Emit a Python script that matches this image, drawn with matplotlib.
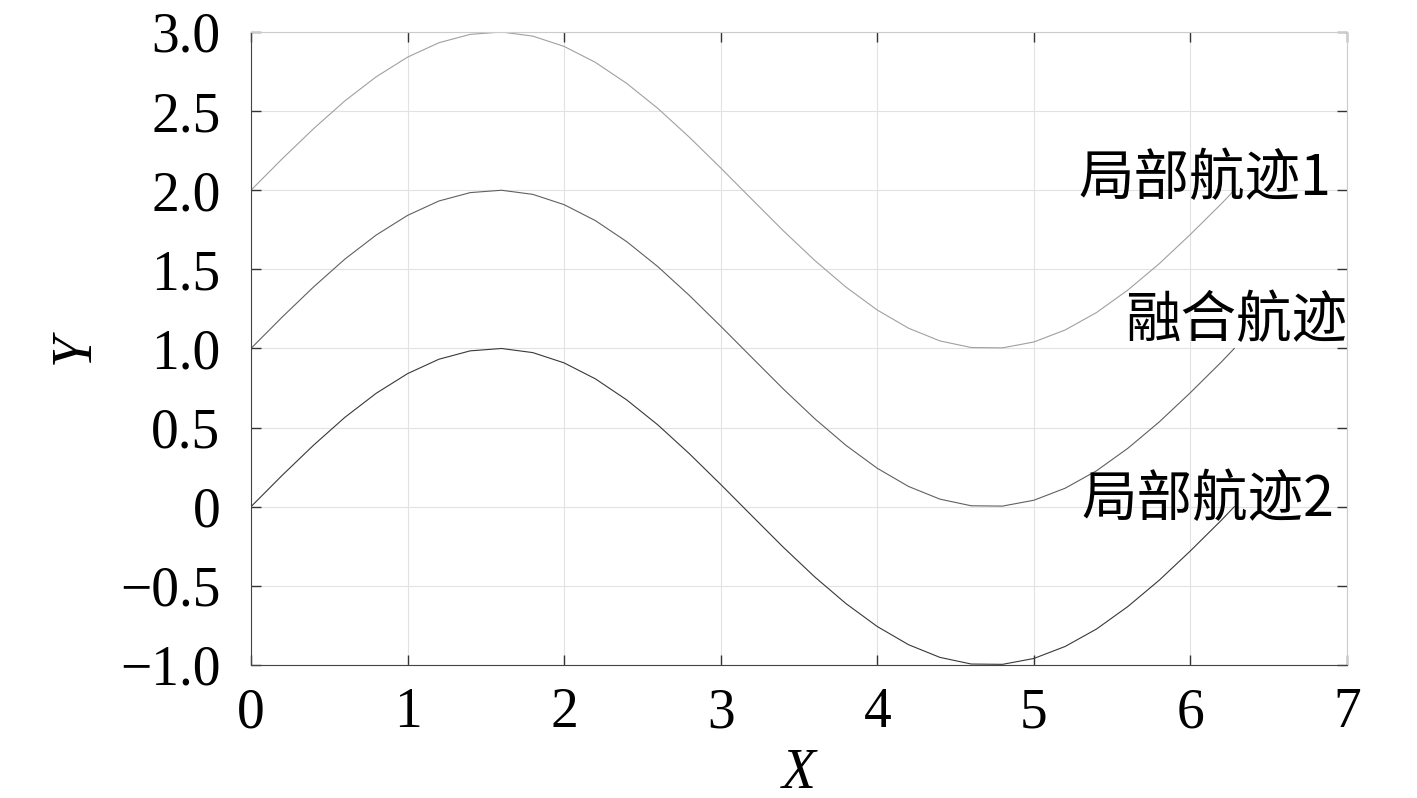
import matplotlib
matplotlib.use('Agg')
import matplotlib.pyplot as plt

plt.rcParams['font.family'] = ['Liberation Serif', 'Noto Sans CJK SC']
plt.rcParams['axes.unicode_minus'] = True

# values
x = [0, 0.2, 0.4, 0.6, 0.8, 1.0, 1.2, 1.4, 1.6, 1.8, 2.0, 2.2, 2.4, 2.6, 2.8, 3.0,
     3.2, 3.4, 3.6, 3.8, 4.0, 4.2, 4.4, 4.6, 4.8, 5.0, 5.2, 5.4, 5.6, 5.8, 6.0, 6.2, 6.28]
track1 = [2.000, 2.199, 2.389, 2.565, 2.717, 2.841, 2.932, 2.985, 3.000, 2.974, 2.909,
          2.808, 2.675, 2.516, 2.335, 2.141, 1.942, 1.744, 1.557, 1.388, 1.243, 1.128,
          1.048, 1.006, 1.004, 1.041, 1.117, 1.227, 1.369, 1.535, 1.721, 1.917, 2.000]
fused = [1.000, 1.199, 1.389, 1.565, 1.717, 1.841, 1.932, 1.985, 2.000, 1.974, 1.909,
         1.808, 1.675, 1.516, 1.335, 1.141, 0.942, 0.744, 0.557, 0.388, 0.243, 0.128,
         0.048, 0.006, 0.004, 0.041, 0.117, 0.227, 0.369, 0.535, 0.721, 0.917, 1.000]
track2 = [0.000, 0.199, 0.389, 0.565, 0.717, 0.841, 0.932, 0.985, 1.000, 0.974, 0.909,
          0.808, 0.675, 0.516, 0.335, 0.141, -0.058, -0.256, -0.443, -0.612, -0.757, -0.872,
          -0.952, -0.994, -0.996, -0.959, -0.883, -0.773, -0.631, -0.465, -0.279, -0.083, 0.000]

xticks = [0, 1, 2, 3, 4, 5, 6, 7]
yticks = [-1.0, -0.5, 0, 0.5, 1.0, 1.5, 2.0, 2.5, 3.0]
ytick_labels = ['\u22121.0', '\u22120.5', '0', '0.5', '1.0', '1.5', '2.0', '2.5', '3.0']

fig = plt.figure(figsize=(14.17, 7.98), dpi=100)
ax = fig.add_axes([0.1771, 0.1667, 0.7735, 0.7932])

ax.plot(x, track1, color='#a0a0a0', lw=0.8)
ax.plot(x, fused, color='#606060', lw=0.8)
ax.plot(x, track2, color='#383838', lw=0.8)

cjk = ['Noto Sans CJK SC', 'Liberation Serif']
ax.text(6.9, 2.07, '局部航迹1', fontsize=40, ha='right', va='center', family=cjk)
ax.text(7.0, 1.17, '融合航迹', fontsize=40, ha='right', va='center', family=cjk)
ax.text(6.92, 0.04, '局部航迹2', fontsize=40, ha='right', va='center', family=cjk)

ax.set_xlim(0, 7)
ax.set_ylim(-1, 3)
ax.set_xticks(xticks)
ax.set_yticks(yticks, ytick_labels)
ax.tick_params(direction='in', length=7, width=1, colors='#333333', labelcolor='black',
               labelsize=40, top=True, right=True)
ax.tick_params(axis='y', pad=22)
ax.tick_params(axis='x', pad=16)
ax.grid(True, color='#e2e2e2', lw=0.8)
ax.set_axisbelow(True)

ax.spines['bottom'].set_color('#444444')
ax.spines['left'].set_color('#444444')
ax.spines['top'].set_color('#cccccc')
ax.spines['right'].set_color('#cccccc')

ax.set_xlabel('X', fontsize=40, style='italic', labelpad=6)
ax.set_ylabel('Y', fontsize=40, style='italic', labelpad=14)

fig.savefig('out.png', dpi=100)
